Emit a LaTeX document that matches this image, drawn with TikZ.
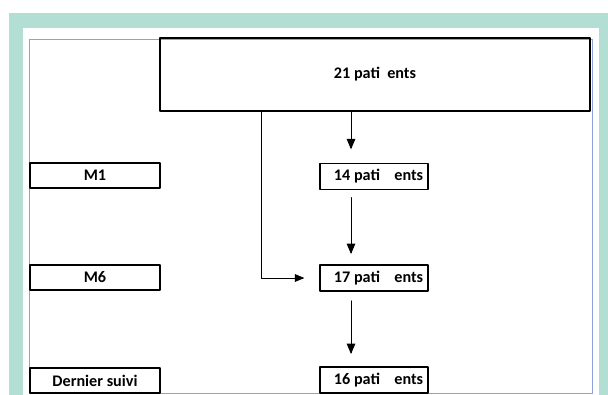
\documentclass[tikz,border=0pt]{standalone}
\usepackage{fontspec}
\setmainfont{Carlito}
\usetikzlibrary{arrows}
\definecolor{tealbg}{rgb}{0.70,0.87,0.83}
\definecolor{frameblue}{rgb}{0.55,0.63,0.86}
\newcommand{\countlabel}[2]{\makebox[2.0cm][l]{#1 pati\hspace{0.36cm}#2}}
\tikzset{
  stagebox/.style={draw,line width=1.4pt,minimum width=3.25cm,minimum height=0.625cm,inner sep=0pt,font=\fontsize{11.5}{13}\selectfont\bfseries},
  countbox/.style={draw,line width=1.4pt,minimum height=0.65cm,inner xsep=0.35cm,inner ysep=0pt,font=\fontsize{11.5}{13}\selectfont\bfseries},
  flow/.style={->,line width=0.7pt}
}
\begin{document}
\begin{tikzpicture}[line cap=round,line join=round,>=triangle 45,x=0.025cm,y=-0.025cm]
\useasboundingbox (0,0) rectangle (608,395);
\fill [tealbg] (9,13) rectangle (608,395);
\fill [white] (23,28) rectangle (599,395);
\draw [frameblue,line width=0.6pt] (29,39) rectangle (592,393);
% boxes
\node [draw,line width=1.4pt,minimum width=10.75cm,minimum height=1.825cm,font=\fontsize{11.5}{13}\selectfont\bfseries] (total) at (375,74.5) {21 pati\ \ ents};
\node [stagebox] (m1) at (95,175.5) {M1};
\node [stagebox] (m6) at (95,277.5) {M6};
\node [stagebox] (last) at (95,380.5) {Dernier suivi};
\node [countbox] (p14) at (374,176.5) {\countlabel{14}{ents}};
\node [countbox] (p17) at (374,278) {\countlabel{17}{ents}};
\node [countbox] (p16) at (374,380) {\countlabel{16}{ents}};
% arrows
\draw [flow,shorten >=0.33cm] ([xshift=0.8cm]total.south west -| p14.north west) -- ([xshift=0.8cm]p14.north west);
\draw [flow,shorten <=0.18cm,shorten >=0.25cm] ([xshift=0.8cm]p14.south west) -- ([xshift=0.8cm]p17.north west);
\draw [flow,shorten <=0.22cm,shorten >=0.3cm] ([xshift=0.8cm]p17.south west) -- ([xshift=0.8cm]p16.north west);
\draw [flow,line width=0.5pt,shorten >=0.37cm] ([xshift=2.55cm]total.south west) |- (p17.west);
\end{tikzpicture}
\end{document}
